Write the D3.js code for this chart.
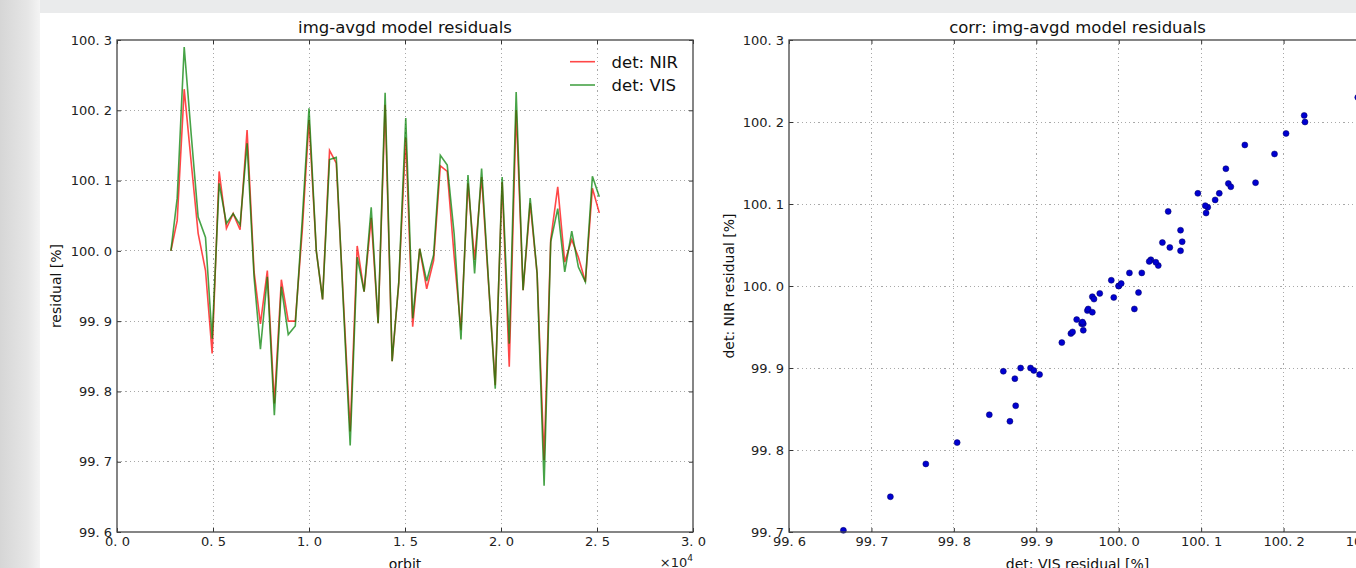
<!DOCTYPE html>
<meta charset="utf-8">
<style>

body {
    margin: 0;
    background: #eaebec;
}

svg {
    display: block;
    font-family: "DejaVu Sans", sans-serif;
}

.axis path {
    display: none;
}

.axis line {
    stroke: #333;
}

.axis text {
    font-size: 13px;
    fill: #222;
    font-family: "DejaVu Sans", sans-serif;
}

.grid line {
    stroke: #a8a8a8;
    stroke-dasharray: 1.2,3;
    shape-rendering: crispEdges;
}

.title {
    font-size: 16.5px;
    fill: #111;
}

.label {
    font-size: 14px;
    fill: #111;
}

</style>
<body>
<script src="https://cdnjs.cloudflare.com/ajax/libs/d3/7.8.5/d3.min.js"></script>
<script>

// orbit number of each sample
var orbit = [2807, 3135, 3500, 3863, 4226, 4610, 4955, 5320, 5700, 6050, 6410, 6775, 7140, 7470,
    7830, 8195, 8560, 8920, 9285, 9650, 10000, 10380, 10707, 11070, 11420, 12145, 12510, 12870,
    13240, 13600, 13965, 14330, 14675, 15040, 15400, 15765, 16130, 16490, 16840, 17200, 17560,
    17915, 18280, 18625, 18990, 19350, 19700, 20060, 20430, 20790, 21150, 21520, 21880, 22245,
    22590, 22955, 23320, 23685, 24030, 24395, 24760, 25120];

// det: NIR residual [%]
var nir = [100.000, 100.043, 100.230, 100.126, 100.025, 99.972, 99.854, 100.113, 100.032, 100.053,
    100.030, 100.172, 99.970, 99.896, 99.972, 99.783, 99.959, 99.900, 99.900, 100.029, 100.186,
    100.000, 99.931, 100.143, 100.125, 99.743, 100.007, 99.942, 100.047, 99.897, 100.208, 99.843,
    99.954, 100.161, 99.892, 100.003, 99.946, 99.986, 100.121, 100.113, 99.992, 99.887, 100.096,
    99.987, 100.105, 99.954, 99.809, 100.098, 99.835, 100.200, 99.944, 100.068, 99.968, 99.702,
    100.016, 100.091, 99.984, 100.016, 99.991, 99.956, 100.089, 100.054];

// det: VIS residual [%]
var vis = [100.000, 100.075, 100.290, 100.166, 100.048, 100.019, 99.875, 100.096, 100.039, 100.053,
    100.037, 100.153, 99.962, 99.860, 99.963, 99.766, 99.949, 99.881, 99.893, 100.045, 100.203,
    100.000, 99.931, 100.130, 100.133, 99.723, 99.991, 99.942, 100.062, 99.897, 100.225, 99.843,
    99.955, 100.189, 99.904, 100.003, 99.957, 99.994, 100.136, 100.122, 100.024, 99.874, 100.108,
    99.968, 100.117, 99.957, 99.804, 100.105, 99.868, 100.226, 99.944, 100.075, 99.968, 99.666,
    100.013, 100.060, 99.970, 100.028, 99.977, 99.956, 100.106, 100.077];

var orbitTicks = [0, 5000, 10000, 15000, 20000, 25000, 30000];
var resTicks = [99.6, 99.7, 99.8, 99.9, 100.0, 100.1, 100.2, 100.3];
var corrXTicks = [99.6, 99.7, 99.8, 99.9, 100.0, 100.1, 100.2, 100.3];
var corrYTicks = [99.7, 99.8, 99.9, 100.0, 100.1, 100.2, 100.3];

var series = [
    {name: "det: NIR", values: nir, color: "#ff0000"},
    {name: "det: VIS", values: vis, color: "#008000"}
];

var W = 1356, H = 568;

// tick labels as matplotlib drew them, e.g. "100. 3"
var fmt = function(d) { return d3.format(".1f")(d).replace(".", ". "); };

var svg = d3.select("body").append("svg")
    .attr("width", W)
    .attr("height", H);

// backdrop around the figure
var defs = svg.append("defs");
var grad = defs.append("linearGradient").attr("id", "side");
grad.append("stop").attr("offset", "0%").attr("stop-color", "#d6d6d6");
grad.append("stop").attr("offset", "70%").attr("stop-color", "#e6e6e6");
grad.append("stop").attr("offset", "100%").attr("stop-color", "#f4f4f4");

svg.append("rect").attr("width", W).attr("height", H).attr("fill", "#eaebec");
svg.append("rect").attr("width", 40).attr("height", H).attr("fill", "url(#side)");
svg.append("rect")
    .attr("x", 40).attr("y", 13)
    .attr("width", W - 40).attr("height", H - 13)
    .attr("fill", "#fff");

function panel(left, top, width, height, x, y, xTicks, yTicks, xFormat) {
    var g = svg.append("g")
        .attr("transform", "translate(" + left + "," + top + ")");

    g.append("g")
        .attr("class", "grid")
        .selectAll("line")
        .data(xTicks.slice(1, -1))
      .enter().append("line")
        .attr("x1", function(d) { return x(d); })
        .attr("x2", function(d) { return x(d); })
        .attr("y1", 0)
        .attr("y2", height);

    g.append("g")
        .attr("class", "grid")
        .selectAll("line")
        .data(yTicks.slice(1, -1))
      .enter().append("line")
        .attr("x1", 0)
        .attr("x2", width)
        .attr("y1", function(d) { return y(d); })
        .attr("y2", function(d) { return y(d); });

    // inward ticks on all four sides
    g.append("g")
        .attr("class", "x axis")
        .attr("transform", "translate(0," + height + ")")
        .call(d3.axisBottom(x).tickValues(xTicks).tickSizeInner(-4).tickSizeOuter(0).tickPadding(5).tickFormat(xFormat));

    g.append("g")
        .attr("class", "x axis")
        .call(d3.axisTop(x).tickValues(xTicks).tickSizeInner(-4).tickSizeOuter(0).tickFormat(""));

    g.append("g")
        .attr("class", "y axis")
        .call(d3.axisLeft(y).tickValues(yTicks).tickSizeInner(-4).tickSizeOuter(0).tickPadding(5).tickFormat(fmt));

    g.append("g")
        .attr("class", "y axis")
        .attr("transform", "translate(" + width + ",0)")
        .call(d3.axisRight(y).tickValues(yTicks).tickSizeInner(-4).tickSizeOuter(0).tickFormat(""));

    return g;
}

// ---- left: residuals vs orbit
var lw = 576, lh = 492;
var x = d3.scaleLinear().domain([0, 30000]).range([0, lw]);
var y = d3.scaleLinear().domain([99.6, 100.3]).range([lh, 0]);

var left = panel(117, 40, lw, lh, x, y, orbitTicks, resTicks, function(d) { return fmt(d / 1e4); });

var line = d3.line()
    .x(function(d, i) { return x(orbit[i]); })
    .y(function(d) { return y(d); });

left.selectAll(".series")
    .data(series)
  .enter().append("path")
    .attr("class", "series")
    .attr("d", function(d) { return line(d.values); })
    .attr("fill", "none")
    .attr("stroke", function(d) { return d.color; })
    .attr("stroke-opacity", 0.72)
    .attr("stroke-width", 1.6)
    .attr("stroke-linejoin", "miter");

left.append("rect")
    .attr("width", lw).attr("height", lh)
    .attr("fill", "none").attr("stroke", "#444").attr("stroke-width", 1.3);

var legend = left.selectAll(".legend")
    .data(series)
  .enter().append("g")
    .attr("class", "legend")
    .attr("transform", function(d, i) { return "translate(453," + (21.7 + i * 23.3) + ")"; });

legend.append("line")
    .attr("x1", 0).attr("x2", 25)
    .attr("stroke", function(d) { return d.color; })
    .attr("stroke-opacity", 0.72)
    .attr("stroke-width", 1.6);

legend.append("text")
    .attr("x", 41.5)
    .attr("dy", "0.37em")
    .style("font-size", "16.5px")
    .style("fill", "#111")
    .text(function(d) { return d.name; });

left.append("text")
    .attr("class", "title")
    .attr("x", lw / 2).attr("y", -7)
    .attr("text-anchor", "middle")
    .text("img-avgd model residuals");

left.append("text")
    .attr("class", "label")
    .attr("x", lw / 2).attr("y", lh + 37)
    .attr("text-anchor", "middle")
    .text("orbit");

left.append("text")
    .attr("class", "label")
    .attr("transform", "translate(-56," + lh / 2 + ")rotate(-90)")
    .attr("text-anchor", "middle")
    .text("residual [%]");

var off = left.append("text")
    .attr("x", lw).attr("y", lh + 35)
    .attr("text-anchor", "end")
    .style("font-size", "13px")
    .style("fill", "#222");
off.append("tspan").text("\u00d710");
off.append("tspan").attr("dy", -6).style("font-size", "9px").text("4");

// ---- right: NIR vs VIS
var rw = 577, rh = 492;
var x2 = d3.scaleLinear().domain([99.6, 100.3]).range([0, rw]);
var y2 = d3.scaleLinear().domain([99.7, 100.3]).range([rh, 0]);

var right = panel(789, 40, rw, rh, x2, y2, corrXTicks, corrYTicks, fmt);

right.selectAll(".dot")
    .data(vis)
  .enter().append("circle")
    .attr("class", "dot")
    .attr("cx", function(d) { return x2(d); })
    .attr("cy", function(d, i) { return y2(nir[i]); })
    .attr("r", 3)
    .attr("fill", "#0000d0")
    .attr("stroke", "#000060")
    .attr("stroke-width", 0.5);

right.append("rect")
    .attr("width", rw).attr("height", rh)
    .attr("fill", "none").attr("stroke", "#444").attr("stroke-width", 1.3);

right.append("text")
    .attr("class", "title")
    .attr("x", rw / 2).attr("y", -7)
    .attr("text-anchor", "middle")
    .text("corr: img-avgd model residuals");

right.append("text")
    .attr("class", "label")
    .attr("x", rw / 2).attr("y", rh + 37)
    .attr("text-anchor", "middle")
    .text("det: VIS residual [%]");

right.append("text")
    .attr("class", "label")
    .attr("transform", "translate(-55," + rh / 2 + ")rotate(-90)")
    .attr("text-anchor", "middle")
    .text("det: NIR residual [%]");

</script>
</body>
</html>
